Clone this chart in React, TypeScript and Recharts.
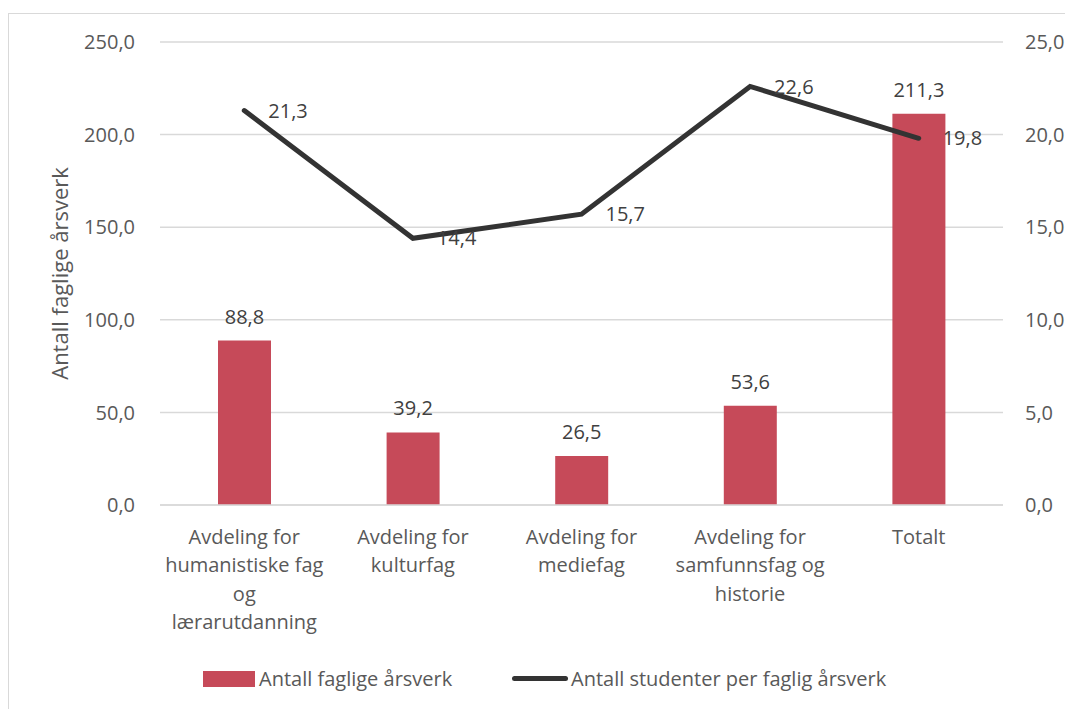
import { ComposedChart, Bar, Line, XAxis, YAxis, CartesianGrid, Legend, LabelList } from "recharts";

const categories = [
  "Avdeling for\nhumanistiske fag\nog\nlærarutdanning",
  "Avdeling for\nkulturfag",
  "Avdeling for\nmediefag",
  "Avdeling for\nsamfunnsfag og\nhistorie",
  "Totalt",
];
const aarsverk = [88.8, 39.2, 26.5, 53.6, 211.3];
const studenterPerAarsverk = [21.3, 14.4, 15.7, 22.6, 19.8];
const leftTicks = [0, 50, 100, 150, 200, 250];
const rightTicks = [0, 5, 10, 15, 20, 25];

const data = categories.map((c, i) => ({
  name: c,
  aarsverk: aarsverk[i],
  studenter: studenterPerAarsverk[i],
}));

const FONT = "'Open Sans', sans-serif";
const FS = 20;
const BAR = "#C64A59";
const LINE = "#333333";
const fmt = (v: number) => v.toFixed(1).replace(".", ",");

function CategoryTick(props: any) {
  const { x, y, payload } = props;
  const lines = String(payload.value).split("\n");
  return (
    <g transform={`translate(${x},${y})`}>
      {lines.map((l, i) => (
        <text key={i} x={0} y={23 + i * 28.5} textAnchor="middle" dominantBaseline="central"
          fill="#595959" fontSize={FS} fontFamily={FONT}>
          {l}
        </text>
      ))}
    </g>
  );
}

function LegendContent() {
  return (
    <div style={{ position: "relative", height: 52, fontFamily: FONT, fontSize: FS, color: "#595959", whiteSpace: "nowrap" }}>
      <div style={{ position: "absolute", left: 194, top: 16, width: 52, height: 16, background: BAR }} />
      <div style={{ position: "absolute", left: 250, top: 9, lineHeight: "30px" }}>Antall faglige årsverk</div>
      <div style={{ position: "absolute", left: 503, top: 21, width: 56, height: 5, borderRadius: 3, background: LINE }} />
      <div style={{ position: "absolute", left: 562, top: 9, lineHeight: "30px" }}>Antall studenter per faglig årsverk</div>
    </div>
  );
}

export default function App() {
  return (
    <div style={{ width: 1060, height: 695, marginTop: 5, border: "1px solid #d9d9d9", background: "#fff" }}>
      <ComposedChart width={1058} height={693} data={data} margin={{ top: 28, right: 0, left: 0, bottom: 0 }} barSize={53}>
        <CartesianGrid yAxisId="left" vertical={false} stroke="#d9d9d9" strokeWidth={1.5} />
        <XAxis dataKey="name" height={150} interval={0} tick={<CategoryTick />}
          axisLine={{ stroke: "#d9d9d9", strokeWidth: 1.5 }} tickLine={false} />
        <YAxis yAxisId="left" width={151} domain={[0, 250]} ticks={leftTicks} tickFormatter={fmt}
          axisLine={false} tickLine={false} tickSize={0} tickMargin={25}
          tick={{ fill: "#595959", fontSize: FS, fontFamily: FONT }}
          label={{ value: "Antall faglige årsverk", angle: -90, position: "center", dx: -24,
            fill: "#595959", fontSize: 22, fontFamily: FONT }} />
        <YAxis yAxisId="right" orientation="right" width={64} domain={[0, 25]} ticks={rightTicks} tickFormatter={fmt}
          axisLine={false} tickLine={false} tickSize={0} tickMargin={22}
          tick={{ fill: "#595959", fontSize: FS, fontFamily: FONT, textAnchor: "start" }} />
        <Legend verticalAlign="bottom" height={52} content={<LegendContent />} />
        <Bar yAxisId="left" dataKey="aarsverk" name="Antall faglige årsverk" fill={BAR} isAnimationActive={false}>
          <LabelList dataKey="aarsverk" position="top" offset={17} formatter={(v: any) => fmt(Number(v))}
            fill="#404040" fontSize={FS} fontFamily={FONT} />
        </Bar>
        <Line yAxisId="right" type="linear" dataKey="studenter" name="Antall studenter per faglig årsverk"
          stroke={LINE} strokeWidth={5} strokeLinecap="round" dot={false} activeDot={false} isAnimationActive={false}>
          <LabelList dataKey="studenter" position="right" offset={24} formatter={(v: any) => fmt(Number(v))}
            fill="#404040" fontSize={FS} fontFamily={FONT} />
        </Line>
      </ComposedChart>
    </div>
  );
}
